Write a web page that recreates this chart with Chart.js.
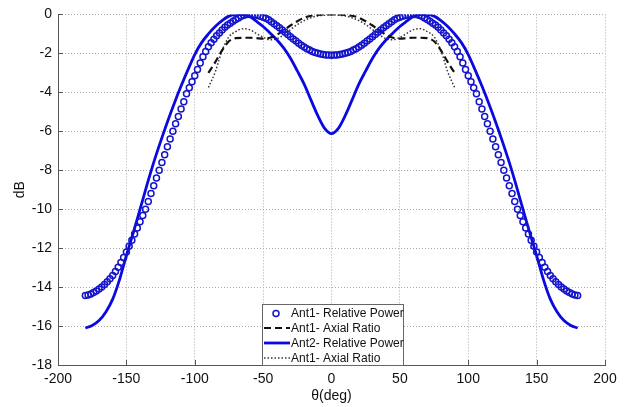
<!DOCTYPE html>
<html><head><meta charset="utf-8">
<script src="https://cdn.jsdelivr.net/npm/chart.js@4"></script>
<style>html,body{margin:0;padding:0;background:#fff}#wrap{width:629px;height:407px;position:relative}</style>
</head><body><div id="wrap"><canvas id="c" width="629" height="407"></canvas></div>
<script>
// ---- data ----
const thetaP = [-180,-178,-176,-174,-172,-170,-168,-166,-164,-162,-160,-158,-156,-154,-152,-150,-148,-146,-144,-142,-140,-138,-136,-134,-132,-130,-128,-126,-124,-122,-120,-118,-116,-114,-112,-110,-108,-106,-104,-102,-100,-98,-96,-94,-92,-90,-88,-86,-84,-82,-80,-78,-76,-74,-72,-70,-68,-66,-64,-62,-60,-58,-56,-54,-52,-50,-48,-46,-44,-42,-40,-38,-36,-34,-32,-30,-28,-26,-24,-22,-20,-18,-16,-14,-12,-10,-8,-6,-4,-2,0,2,4,6,8,10,12,14,16,18,20,22,24,26,28,30,32,34,36,38,40,42,44,46,48,50,52,54,56,58,60,62,64,66,68,70,72,74,76,78,80,82,84,86,88,90,92,94,96,98,100,102,104,106,108,110,112,114,116,118,120,122,124,126,128,130,132,134,136,138,140,142,144,146,148,150,152,154,156,158,160,162,164,166,168,170,172,174,176,178,180];
const ant1Power = [
-14.43,-14.40,-14.35,-14.28,-14.20,-14.10,-14.00,-13.87,-13.73,-13.57,
-13.40,-13.20,-12.98,-12.74,-12.48,-12.20,-11.90,-11.60,-11.28,-10.96,
-10.64,-10.32,-10.00,-9.60,-9.20,-8.80,-8.40,-8.00,-7.60,-7.20,
-6.80,-6.40,-6.00,-5.62,-5.24,-4.86,-4.48,-4.08,-3.77,-3.46,
-3.15,-2.83,-2.50,-2.18,-1.90,-1.66,-1.46,-1.28,-1.10,-0.95,
-0.80,-0.66,-0.55,-0.45,-0.35,-0.26,-0.18,-0.10,-0.05,-0.01,
0.00,-0.01,-0.03,-0.06,-0.10,-0.15,-0.20,-0.28,-0.38,-0.48,
-0.58,-0.69,-0.80,-0.92,-1.03,-1.15,-1.26,-1.37,-1.48,-1.58,
-1.67,-1.76,-1.83,-1.90,-1.95,-2.00,-2.03,-2.06,-2.08,-2.09,
-2.10,
-2.09,-2.08,-2.06,-2.03,-2.00,-1.95,-1.90,-1.83,-1.76,-1.67,
-1.58,-1.48,-1.37,-1.26,-1.15,-1.03,-0.92,-0.80,-0.69,-0.58,
-0.48,-0.38,-0.28,-0.20,-0.15,-0.10,-0.06,-0.03,-0.01,0.00,
-0.01,-0.05,-0.10,-0.18,-0.26,-0.35,-0.45,-0.55,-0.66,-0.80,
-0.95,-1.10,-1.28,-1.46,-1.66,-1.90,-2.18,-2.50,-2.83,-3.15,
-3.46,-3.77,-4.08,-4.48,-4.86,-5.24,-5.62,-6.00,-6.40,-6.80,
-7.20,-7.60,-8.00,-8.40,-8.80,-9.20,-9.60,-10.00,-10.32,-10.64,
-10.96,-11.28,-11.60,-11.90,-12.20,-12.48,-12.74,-12.98,-13.20,-13.40,
-13.57,-13.73,-13.87,-14.00,-14.10,-14.20,-14.28,-14.35,-14.40,-14.43];

const thetaL = [-180,-175,-170,-165,-160,-155,-150,-145,-140,-135,-130,-125,-120,-115,-110,-105,-100,-95,-90,-85,-80,-75,-70,-65,-60,-55,-50,-45,-40,-35,-30,-25,-20,-15,-10,-5,0,5,10,15,20,25,30,35,40,45,50,55,60,65,70,75,80,85,90,95,100,105,110,115,120,125,130,135,140,145,150,155,160,165,170,175,180];
const ant2Power = [
-16.10,-15.97,-15.72,-15.28,-14.62,-13.62,-12.38,-11.22,-10.00,-8.77,
-7.60,-6.53,-5.52,-4.57,-3.68,-2.85,-2.06,-1.45,-1.00,-0.62,
-0.32,-0.09,-0.01,-0.01,-0.10,-0.35,-0.62,-0.95,-1.30,-1.72,
-2.25,-2.90,-3.58,-4.40,-5.20,-5.85,
-6.12,
-5.85,-5.20,-4.40,-3.58,-2.90,-2.25,-1.72,-1.30,-0.95,-0.62,
-0.35,-0.10,-0.01,-0.01,-0.09,-0.32,-0.62,-1.00,-1.45,-2.06,
-2.85,-3.68,-4.57,-5.52,-6.53,-7.60,-8.77,-10.00,-11.22,-12.38,
-13.62,-14.62,-15.28,-15.72,-15.97,-16.10];

const thetaAR = [-90,-85,-80,-75,-70,-65,-60,-55,-50,-45,-40,-35,-30,-25,-20,-15,-10,-5,0,5,10,15,20,25,30,35,40,45,50,55,60,65,70,75,80,85,90];
const ant1AxialA = [-3.00,-2.45,-1.85,-1.38,-1.22,-1.20,-1.20,-1.22,-1.24,-1.20,-1.05,-0.82,-0.57,-0.35,-0.17,-0.07,-0.02,0.00,
0.00,
0.00,-0.02,-0.07,-0.17,-0.35,-0.57,-0.82,-1.05,-1.20,-1.24,-1.22,-1.20,-1.20,-1.22,-1.38,-1.85,-2.45,-3.00];
const ant1AxialB = [-3.75,-2.95,-1.85,-1.15,-0.88,-0.74,-0.78,-0.98,-1.18,-1.30,-1.25,-1.05,-0.78,-0.52,-0.32,-0.17,-0.08,-0.04,
-0.02,
-0.04,-0.08,-0.17,-0.32,-0.52,-0.78,-1.05,-1.25,-1.30,-1.18,-0.98,-0.78,-0.74,-0.88,-1.15,-1.85,-2.95,-3.75];

const xTicks = [-200,-150,-100,-50,0,50,100,150,200];
const yTicks = [0,-2,-4,-6,-8,-10,-12,-14,-16,-18];
const seriesNames = ['Ant1- Relative Power','Ant1- Axial Ratio','Ant2- Relative Power','Ant1- Axial Ratio'];

// ---- build ----
const pts = (xs, ys) => xs.map((x, i) => ({x: x, y: ys[i]}));
const AXIS = '#555';
const FONT = "'Liberation Sans', Arial, sans-serif";

const inwardTicks = {
  id: 'inwardTicks',
  afterDraw(chart) {
    const {ctx, chartArea: a, scales} = chart;
    ctx.save();
    ctx.strokeStyle = AXIS; ctx.lineWidth = 1;
    ctx.beginPath();
    xTicks.forEach(v => { const px = Math.round(scales.x.getPixelForValue(v)) + 0.5; ctx.moveTo(px, a.bottom); ctx.lineTo(px, a.bottom - 5); });
    yTicks.forEach(v => { const py = Math.round(scales.y.getPixelForValue(v)) + 0.5; ctx.moveTo(a.left, py); ctx.lineTo(a.left + 5, py); });
    ctx.stroke();
    ctx.restore();
  }
};

const boxLegend = {
  id: 'boxLegend',
  afterDraw(chart) {
    const {ctx} = chart;
    const bx = 262.5, by = 304.5, bw = 141, bh = 61;
    ctx.save();
    ctx.fillStyle = '#fff';
    ctx.fillRect(bx, by, bw, bh);
    ctx.strokeStyle = '#666'; ctx.lineWidth = 1;
    ctx.strokeRect(bx, by, bw, bh);
    const rows = [313.5, 328, 343, 358];
    ctx.font = '12px ' + FONT;
    ctx.textBaseline = 'middle';
    ctx.textAlign = 'left';
    chart.data.datasets.forEach((ds, i) => {
      const y = rows[i];
      ctx.save();
      if (ds.showLine === false) {
        ctx.strokeStyle = ds.pointBorderColor; ctx.lineWidth = ds.pointBorderWidth;
        ctx.beginPath(); ctx.arc(276, y, ds.pointRadius, 0, Math.PI * 2); ctx.stroke();
      } else {
        ctx.strokeStyle = ds.borderColor; ctx.lineWidth = ds.borderWidth;
        ctx.setLineDash(ds.borderDash || []);
        ctx.beginPath(); ctx.moveTo(264, y); ctx.lineTo(290, y); ctx.stroke();
      }
      ctx.restore();
      ctx.fillStyle = '#111';
      ctx.fillText(seriesNames[i], 291, y + 0.5);
    });
    ctx.restore();
  }
};

new Chart(document.getElementById('c'), {
  type: 'line',
  data: {
    datasets: [
      { label: seriesNames[0], data: pts(thetaP, ant1Power), showLine: false,
        pointStyle: 'circle', pointRadius: 3, pointBorderWidth: 1.5,
        pointBorderColor: '#1414cc', pointBackgroundColor: 'rgba(0,0,0,0)',
        borderColor: '#1414cc', backgroundColor: 'rgba(0,0,0,0)' },
      { label: seriesNames[1], data: pts(thetaAR, ant1AxialA),
        borderColor: '#111', borderWidth: 2.2, borderDash: [7, 4], pointRadius: 0,
        cubicInterpolationMode: 'monotone', fill: false },
      { label: seriesNames[2], data: pts(thetaL, ant2Power),
        borderColor: '#0a0ae0', borderWidth: 2.8, pointRadius: 0,
        cubicInterpolationMode: 'monotone', fill: false },
      { label: seriesNames[3], data: pts(thetaAR, ant1AxialB),
        borderColor: '#333', borderWidth: 1.5, borderDash: [1.5, 2], pointRadius: 0,
        cubicInterpolationMode: 'monotone', fill: false }
    ]
  },
  options: {
    responsive: false,
    devicePixelRatio: 1,
    animation: false,
    layout: { padding: { top: 13, right: 24, bottom: 0, left: 0 } },
    plugins: { legend: { display: false }, tooltip: { enabled: false } },
    scales: {
      x: {
        type: 'linear', min: -200, max: 200,
        afterBuildTicks: s => { s.ticks = xTicks.map(v => ({value: v})); },
        afterFit: s => { s.height = 42; },
        ticks: { autoSkip: false, maxRotation: 0, padding: 6, color: '#111', font: { family: FONT, size: 14 } },
        grid: { color: '#aaa', drawTicks: false, lineWidth: 1 },
        border: { display: true, color: AXIS, width: 1, dash: [1, 2] },
        title: { display: true, text: 'θ(deg)', color: '#111', font: { family: FONT, size: 14 }, padding: { top: 0, bottom: 2 } }
      },
      y: {
        type: 'linear', min: -18, max: 0,
        afterBuildTicks: s => { s.ticks = yTicks.map(v => ({value: v})); },
        afterFit: s => { s.width = 58; },
        ticks: { autoSkip: false, padding: 6, color: '#111', font: { family: FONT, size: 14 } },
        grid: { color: '#aaa', drawTicks: false, lineWidth: 1 },
        border: { display: true, color: AXIS, width: 1, dash: [1, 2] },
        title: { display: true, text: 'dB', color: '#111', font: { family: FONT, size: 14 }, padding: { top: 12, bottom: 0 } }
      }
    }
  },
  plugins: [inwardTicks, boxLegend]
});
</script>
</body></html>
